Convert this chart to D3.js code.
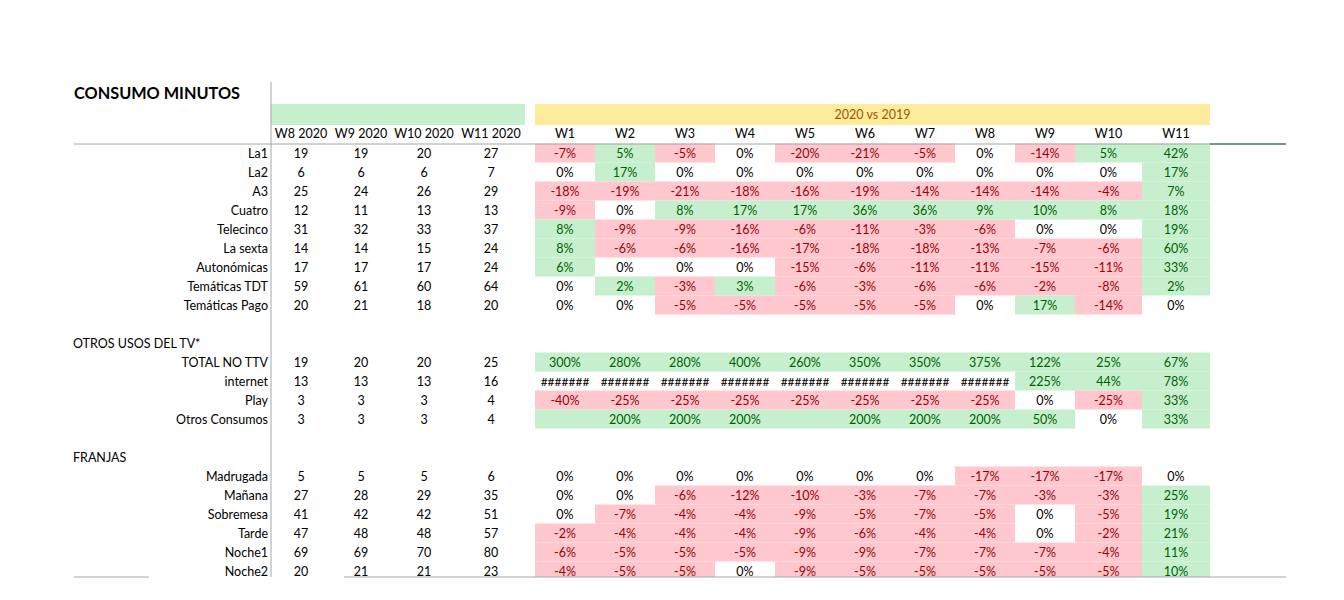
<!DOCTYPE html>
<html><head><meta charset="utf-8">
<script src="https://cdn.jsdelivr.net/npm/d3@7"></script>
<style>body{margin:0;background:#fff}svg{display:block}text{font-family:Lato,"Open Sans",sans-serif}</style>
</head><body><svg id="c" width="1344" height="600"></svg>
<script>
// ---------- data ----------
const title = "CONSUMO MINUTOS";
const groupTitle = "2020 vs 2019";
const absHeaders = ["W8 2020","W9 2020","W10 2020","W11 2020"];
const pctHeaders = ["W1","W2","W3","W4","W5","W6","W7","W8","W9","W10","W11"];
const sectionOtros = "OTROS USOS DEL TV*";
const sectionFranjas = "FRANJAS";

const channelLabels = ["La1","La2","A3","Cuatro","Telecinco","La sexta","Autonómicas","Temáticas TDT","Temáticas Pago"];
const channelAbs = [[19,19,20,27],[6,6,6,7],[25,24,26,29],[12,11,13,13],[31,32,33,37],[14,14,15,24],[17,17,17,24],[59,61,60,64],[20,21,18,20]];
const channelPct = [
  ["-7%","5%","-5%","0%","-20%","-21%","-5%","0%","-14%","5%","42%"],
  ["0%","17%","0%","0%","0%","0%","0%","0%","0%","0%","17%"],
  ["-18%","-19%","-21%","-18%","-16%","-19%","-14%","-14%","-14%","-4%","7%"],
  ["-9%","0%","8%","17%","17%","36%","36%","9%","10%","8%","18%"],
  ["8%","-9%","-9%","-16%","-6%","-11%","-3%","-6%","0%","0%","19%"],
  ["8%","-6%","-6%","-16%","-17%","-18%","-18%","-13%","-7%","-6%","60%"],
  ["6%","0%","0%","0%","-15%","-6%","-11%","-11%","-15%","-11%","33%"],
  ["0%","2%","-3%","3%","-6%","-3%","-6%","-6%","-2%","-8%","2%"],
  ["0%","0%","-5%","-5%","-5%","-5%","-5%","0%","17%","-14%","0%"]
];
const otrosLabels = ["TOTAL NO TTV","internet","Play","Otros Consumos"];
const otrosAbs = [[19,20,20,25],[13,13,13,16],[3,3,3,4],[3,3,3,4]];
const otrosPct = [
  ["300%","280%","280%","400%","260%","350%","350%","375%","122%","25%","67%"],
  ["#######","#######","#######","#######","#######","#######","#######","#######","225%","44%","78%"],
  ["-40%","-25%","-25%","-25%","-25%","-25%","-25%","-25%","0%","-25%","33%"],
  ["","200%","200%","200%","","200%","200%","200%","50%","0%","33%"]
];
const franjaLabels = ["Madrugada","Mañana","Sobremesa","Tarde","Noche1","Noche2"];
const franjaAbs = [[5,5,5,6],[27,28,29,35],[41,42,42,51],[47,48,48,57],[69,69,70,80],[20,21,21,23]];
const franjaPct = [
  ["0%","0%","0%","0%","0%","0%","0%","-17%","-17%","-17%","0%"],
  ["0%","0%","-6%","-12%","-10%","-3%","-7%","-7%","-3%","-3%","25%"],
  ["0%","-7%","-4%","-4%","-9%","-5%","-7%","-5%","0%","-5%","19%"],
  ["-2%","-4%","-4%","-4%","-9%","-6%","-4%","-4%","0%","-2%","21%"],
  ["-6%","-5%","-5%","-5%","-9%","-9%","-7%","-7%","-7%","-4%","11%"],
  ["-4%","-5%","-5%","0%","-9%","-5%","-5%","-5%","-5%","-5%","10%"]
];

// ---------- build rows ----------
const rows = [];
channelLabels.forEach((l,i)=>rows.push({type:"data",label:l,abs:channelAbs[i],pct:channelPct[i]}));
rows.push({type:"blank"});
rows.push({type:"section",label:sectionOtros});
otrosLabels.forEach((l,i)=>rows.push({type:"data",label:l,abs:otrosAbs[i],pct:otrosPct[i]}));
rows.push({type:"blank"});
rows.push({type:"section",label:sectionFranjas});
franjaLabels.forEach((l,i)=>rows.push({type:"data",label:l,abs:franjaAbs[i],pct:franjaPct[i]}));
rows.forEach((r,i)=>r.key=i);

// ---------- layout ----------
const svg = d3.select("#c");
const FS = 12.5;
const y = d3.scaleBand().domain(rows.map(r=>r.key)).range([143.5, 143.5 + rows.length*19]);
const absEdges = [271,331,391,457,525];
const pctEdges = [535,595,655,715,775,835,895,955,1015,1075,1142,1210];
const xAbs = d3.scaleOrdinal().domain(absHeaders).range(absHeaders.map((_,i)=>absEdges[i]));
const wAbs = d3.scaleOrdinal().domain(absHeaders).range(absHeaders.map((_,i)=>absEdges[i+1]-absEdges[i]));
const xPct = d3.scaleOrdinal().domain(pctHeaders).range(pctHeaders.map((_,i)=>pctEdges[i]));
const wPct = d3.scaleOrdinal().domain(pctHeaders).range(pctHeaders.map((_,i)=>pctEdges[i+1]-pctEdges[i]));

const GOOD_BG="#C6EFCE", GOOD_FG="#006100", BAD_BG="#FFC7CE", BAD_FG="#9C0006";
function kind(s){
  if(s.startsWith("-")) return "bad";
  if(s==="0%"||s.startsWith("#")) return "none";
  return "good";
}

svg.append("defs").append("clipPath").attr("id","clip").append("rect").attr("x",0).attr("y",0).attr("width",1344).attr("height",577);

// title
svg.append("text").attr("x",74).attr("y",99).attr("font-size",16.3).attr("font-weight","bold").text(title);

// header bars
svg.append("rect").attr("x",absEdges[0]).attr("y",104).attr("width",absEdges[4]-absEdges[0]).attr("height",21).attr("fill",GOOD_BG);
svg.append("rect").attr("x",pctEdges[0]).attr("y",104).attr("width",pctEdges[11]-pctEdges[0]).attr("height",21).attr("fill","#FFEB9C");
svg.append("text").attr("x",(pctEdges[0]+pctEdges[11])/2).attr("y",115).attr("dy","0.35em").attr("text-anchor","middle").attr("font-size",FS).attr("fill","#9C5700").text(groupTitle);

// column headers
svg.selectAll(".ha").data(absHeaders).join("text").attr("x",d=>xAbs(d)+wAbs(d)/2).attr("y",134).attr("dy","0.35em").attr("text-anchor","middle").attr("font-size",FS).text(d=>d);
svg.selectAll(".hp").data(pctHeaders).join("text").attr("x",d=>xPct(d)+wPct(d)/2).attr("y",134).attr("dy","0.35em").attr("text-anchor","middle").attr("font-size",FS).text(d=>d);

const body = svg.append("g").attr("clip-path","url(#clip)");
// pct cells
const dataRows = rows.filter(r=>r.type==="data");
const cells = [];
dataRows.forEach(r=>r.pct.forEach((v,j)=>cells.push({row:r.key,col:pctHeaders[j],v})));
body.selectAll(".pc").data(cells.filter(c=>kind(c.v)!=="none")).join("rect")
  .attr("x",c=>xPct(c.col)).attr("y",c=>y(c.row)).attr("width",c=>wPct(c.col)).attr("height",y.bandwidth())
  .attr("fill",c=>kind(c.v)==="bad"?BAD_BG:GOOD_BG);
body.selectAll(".pt").data(cells).join("text")
  .attr("x",c=>xPct(c.col)+wPct(c.col)/2).attr("y",c=>y(c.row)+y.bandwidth()/2+0.5).attr("dy","0.35em")
  .attr("text-anchor","middle").attr("font-size",c=>c.v.startsWith("#")?12:FS)
  .attr("fill",c=>{const k=kind(c.v);return k==="bad"?BAD_FG:k==="good"?GOOD_FG:"#000";})
  .text(c=>c.v);
// abs cells
const acells = [];
dataRows.forEach(r=>r.abs.forEach((v,j)=>acells.push({row:r.key,col:absHeaders[j],v})));
body.selectAll(".at").data(acells).join("text")
  .attr("x",c=>xAbs(c.col)+wAbs(c.col)/2).attr("y",c=>y(c.row)+y.bandwidth()/2+0.5).attr("dy","0.35em")
  .attr("text-anchor","middle").attr("font-size",FS).text(c=>c.v);
// labels
body.selectAll(".rl").data(dataRows).join("text")
  .attr("x",268).attr("y",r=>y(r.key)+y.bandwidth()/2+0.5).attr("dy","0.35em")
  .attr("text-anchor","end").attr("font-size",FS).text(r=>r.label);
body.selectAll(".sl").data(rows.filter(r=>r.type==="section")).join("text")
  .attr("x",73).attr("y",r=>y(r.key)+y.bandwidth()/2+0.5).attr("dy","0.35em")
  .attr("font-size",FS).text(r=>r.label);

// lines
svg.append("line").attr("x1",74).attr("x2",1210).attr("y1",144).attr("y2",144).attr("stroke","#a6a6a6");
svg.append("line").attr("x1",1210).attr("x2",1286).attr("y1",144).attr("y2",144).attr("stroke","#4f6f5f").attr("stroke-width",1.3);
svg.append("line").attr("x1",271).attr("x2",271).attr("y1",82).attr("y2",577).attr("stroke","#a6a6a6");
svg.append("line").attr("x1",74).attr("x2",149).attr("y1",577).attr("y2",577).attr("stroke","#a6a6a6");
svg.append("line").attr("x1",344).attr("x2",1286).attr("y1",577).attr("y2",577).attr("stroke","#a6a6a6");
</script></body></html>
